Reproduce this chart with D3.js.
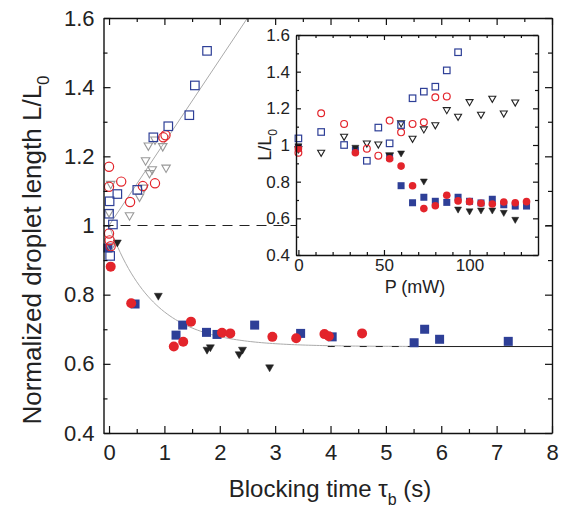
<!DOCTYPE html>
<html>
<head>
<meta charset="utf-8">
<script src="https://cdn.jsdelivr.net/npm/d3@7"></script>
<style>
  body { margin: 0; background: #fff; }
  text { font-family: "Liberation Sans", Arial, Helvetica, sans-serif; fill: #222; }
</style>
</head>
<body>
<div id="main-container"></div>
<script>
// MAIN PANEL: blocking time (s) vs normalized length
const openSqT   = [0.02, 0.00, 0.01, 0.07, 0.15, 0.51, 0.80, 1.07, 1.45, 1.55, 1.77];
const openSqV   = [0.912, 1.034, 1.070, 1.003, 1.091, 1.103, 1.255, 1.287, 1.319, 1.405, 1.505];
const openCircT = [0.00, 0.00, 0.22, 0.38, 0.61, 0.83, 0.98, 1.02, 0.00, 0.01, 0.03];
const openCircV = [1.170, 1.112, 1.127, 1.068, 1.114, 1.122, 1.255, 1.261, 0.977, 0.957, 0.940];
const openTriT  = [0.03, 0.00, 0.03, 0.37, 0.55, 0.63, 0.66, 0.73, 0.78, 0.71, 0.83, 0.97, 1.03];
const openTriV  = [1.117, 1.035, 0.935, 1.026, 1.080, 1.106, 1.185, 1.148, 1.159, 1.228, 1.245, 1.226, 1.164];
const fillSqT   = [-0.02, 0.47, 1.21, 1.33, 1.76, 1.95, 2.63, 3.46, 4.03, 5.51, 5.70, 5.97, 7.21];
const fillSqV   = [0.935, 0.773, 0.683, 0.712, 0.691, 0.685, 0.712, 0.688, 0.678, 0.661, 0.700, 0.671, 0.665];
const fillCircT = [0.03, 0.40, 1.17, 1.34, 1.48, 2.04, 2.19, 2.95, 3.38, 3.89, 3.97, 4.57];
const fillCircV = [0.881, 0.775, 0.650, 0.664, 0.722, 0.690, 0.688, 0.678, 0.674, 0.686, 0.680, 0.688];
const fillTriT  = [0.15, 0.89, 1.77, 1.83, 2.35, 2.41, 2.90];
const fillTriV  = [0.948, 0.794, 0.638, 0.645, 0.625, 0.638, 0.587];

// fit lines (main panel)
const riseStart = 1.0, riseSlope = 0.24;        // L/L0 = 1 + 0.24 t
const decayEnd = 0.65, decayAmp = 0.35, decayTau = 0.8;
const xTicks = [0, 1, 2, 3, 4, 5, 6, 7, 8];
const yTicks = [0.4, 0.6, 0.8, 1, 1.2, 1.4, 1.6];

// INSET: power (mW) vs L/L0
const inOpenSqP   = [0, 13.3, 26.7, 40, 46.7, 53.3, 60, 66.7, 73.3, 80, 86.7, 93.3];
const inOpenSqV   = [1.036, 1.071, 1.000, 0.914, 1.095, 1.009, 1.109, 1.255, 1.291, 1.318, 1.407, 1.506];
const inOpenCircP = [0, 13.3, 26.7, 40, 46.7, 53.3, 60, 66.7, 73.3, 80, 86.7];
const inOpenCircV = [0.958, 1.173, 1.115, 0.980, 0.942, 1.133, 1.069, 1.115, 1.124, 1.260, 1.265];
const inOpenTriP  = [0, 13.3, 26.7, 40, 46.7, 53.3, 60, 66.7, 73.3, 80, 86.7, 93.3, 100, 106.7, 113.3, 120, 126.7];
const inOpenTriV  = [0.973, 0.955, 1.042, 1.005, 1.000, 0.940, 1.115, 1.031, 1.082, 1.105, 1.187, 1.151, 1.231, 1.162, 1.249, 1.169, 1.229];
const inFillSqP   = [0, 33.3, 53.3, 60, 66.7, 73.3, 80, 86.7, 93.3, 100, 106.7, 113.3, 120, 126.7, 133.3];
const inFillSqV   = [0.987, 0.973, 0.933, 0.778, 0.685, 0.715, 0.693, 0.687, 0.715, 0.693, 0.684, 0.704, 0.674, 0.667, 0.667];
const inFillCircP = [0, 33.3, 53.3, 60, 66.7, 73.3, 80, 86.7, 93.3, 100, 106.7, 113.3, 120, 126.7, 133.3];
const inFillCircV = [0.980, 0.958, 0.925, 0.885, 0.778, 0.653, 0.669, 0.726, 0.695, 0.691, 0.682, 0.678, 0.689, 0.685, 0.691];
const inFillTriP  = [0, 33.3, 53.3, 60, 73.3, 93.3, 100, 106.7, 113.3, 120, 126.7];
const inFillTriV  = [0.990, 0.982, 0.940, 0.951, 0.798, 0.645, 0.635, 0.640, 0.640, 0.627, 0.589];
const inXTicks = [0, 50, 100];

const BLUE = "#2e3f97", RED = "#e3242b", GRAY = "#999", BLACK = "#222";

const W = 563, H = 509;
const plot = {left: 103.5, right: 552, top: 18, bottom: 433};
const ins = {left: 296, right: 538, top: 35, bottom: 255};

const svg = d3.select("#main-container")
    .append("svg")
        .attr("width", W)
        .attr("height", H);

const x = d3.scaleLinear().domain([-0.1, 8]).range([plot.left, plot.right]);
const y = d3.scaleLinear().domain([0.4, 1.6]).range([plot.bottom, plot.top]);

const zip = (a, b) => a.map((d, i) => [d, b[i]]);
const fmt = d3.format(".1~f");

svg.append("clipPath").attr("id", "clip")
    .append("rect")
        .attr("x", plot.left).attr("y", plot.top)
        .attr("width", plot.right - plot.left).attr("height", plot.bottom - plot.top);

// reference line at 1
svg.append("line")
    .attr("x1", plot.left).attr("x2", plot.right)
    .attr("y1", y(1)).attr("y2", y(1))
    .attr("stroke", "#222").attr("stroke-width", 1.2)
    .attr("stroke-dasharray", "10,7");

// fit curves
const curveG = svg.append("g").attr("clip-path", "url(#clip)");
const line = d3.line().x(d => x(d[0])).y(d => y(d[1]));
curveG.append("path")
    .datum([[0, riseStart], [3, riseStart + riseSlope * 3]])
    .attr("d", line)
    .attr("fill", "none").attr("stroke", "#aaa").attr("stroke-width", 1);
curveG.append("path")
    .datum(d3.range(0, 8.01, 0.05).map(t => [t, decayEnd + decayAmp * Math.exp(-t / decayTau)]))
    .attr("d", line)
    .attr("fill", "none").attr("stroke", "#aaa").attr("stroke-width", 1);
curveG.append("line")
    .attr("x1", x(3.95)).attr("x2", x(5.45))
    .attr("y1", y(decayEnd)).attr("y2", y(decayEnd))
    .attr("stroke", "#222").attr("stroke-width", 1).attr("stroke-dasharray", "7,9");
curveG.append("line")
    .attr("x1", x(5.45)).attr("x2", x(8))
    .attr("y1", y(decayEnd)).attr("y2", y(decayEnd))
    .attr("stroke", "#222").attr("stroke-width", 1);

// markers
function drawMarkers(g, data, sx, sy, kind, color, s) {
    const sel = g.selectAll(null).data(data).enter();
    if (kind === "sq") {
        sel.append("rect")
            .attr("x", d => sx(d[0]) - s / 2).attr("y", d => sy(d[1]) - s / 2)
            .attr("width", s).attr("height", s)
            .attr("fill", "none").attr("stroke", color).attr("stroke-width", 1.2);
    } else if (kind === "fsq") {
        sel.append("rect")
            .attr("x", d => sx(d[0]) - s / 2).attr("y", d => sy(d[1]) - s / 2)
            .attr("width", s).attr("height", s)
            .attr("fill", color);
    } else if (kind === "circ") {
        sel.append("circle")
            .attr("cx", d => sx(d[0])).attr("cy", d => sy(d[1])).attr("r", s)
            .attr("fill", "none").attr("stroke", color).attr("stroke-width", 1.2);
    } else if (kind === "fcirc") {
        sel.append("circle")
            .attr("cx", d => sx(d[0])).attr("cy", d => sy(d[1])).attr("r", s)
            .attr("fill", color);
    } else {
        // downward triangle, s = width
        const h = s * 0.87;
        sel.append("path")
            .attr("d", d => {
                const cx = sx(d[0]), cy = sy(d[1]);
                return `M${cx - s / 2},${cy - h / 2}L${cx + s / 2},${cy - h / 2}L${cx},${cy + h / 2}Z`;
            })
            .attr("fill", kind === "ftri" ? color : "none")
            .attr("stroke", color).attr("stroke-width", kind === "ftri" ? 0.5 : 1.1);
    }
}

const markG = svg.append("g");
drawMarkers(markG, zip(fillSqT, fillSqV), x, y, "fsq", BLUE, 9);
drawMarkers(markG, zip(fillCircT, fillCircV), x, y, "fcirc", RED, 5);
drawMarkers(markG, zip(fillTriT, fillTriV), x, y, "ftri", BLACK, 8);
drawMarkers(markG, zip(openTriT, openTriV), x, y, "tri", GRAY, 8.5);
drawMarkers(markG, zip(openCircT, openCircV), x, y, "circ", RED, 4.6);
drawMarkers(markG, zip(openSqT, openSqV), x, y, "sq", BLUE, 8.5);

// axes (ticks inward, mirrored on all four sides)
function frameAxes(g, sx, sy, box, xMaj, xMin, yMaj, yMin, big, small, fs, gap, dy) {
    const mk = (axisFn, scale, vals, size, tr, lab) => {
        const a = g.append("g").attr("transform", tr)
            .call(axisFn(scale).tickValues(vals).tickSize(-size).tickSizeOuter(0)
                .tickFormat(lab ? fmt : ""));
        a.select(".domain").attr("stroke", "#111").attr("stroke-width", 1.4);
        a.selectAll(".tick line").attr("stroke", "#111").attr("stroke-width", 1.2);
        a.selectAll("text").attr("font-size", fs).attr("fill", "#222");
        return a;
    };
    const bx = mk(d3.axisBottom, sx, xMaj, big, `translate(0,${box.bottom})`, true);
    bx.selectAll("text").attr("dy", dy).attr("y", gap - 2);
    mk(d3.axisBottom, sx, xMin, small, `translate(0,${box.bottom})`, false).select(".domain").remove();
    mk(d3.axisTop, sx, xMaj, big, `translate(0,${box.top})`, false);
    mk(d3.axisTop, sx, xMin, small, `translate(0,${box.top})`, false).select(".domain").remove();
    const ly = mk(d3.axisLeft, sy, yMaj, big, `translate(${box.left},0)`, true);
    ly.selectAll("text").attr("x", -gap);
    mk(d3.axisLeft, sy, yMin, small, `translate(${box.left},0)`, false).select(".domain").remove();
    mk(d3.axisRight, sy, yMaj, big, `translate(${box.right},0)`, false);
    mk(d3.axisRight, sy, yMin, small, `translate(${box.right},0)`, false).select(".domain").remove();
}

frameAxes(svg, x, y, plot,
    xTicks, xTicks.slice(0, -1).map(d => d + 0.5),
    yTicks, yTicks.slice(0, -1).map(d => d + 0.1),
    7, 4, 22, 9, "0.92em");

// axis titles
svg.append("text")
    .attr("transform", `translate(41,250) rotate(-90)`)
    .attr("text-anchor", "middle")
    .attr("font-size", 26)
    .text("Normalized droplet length L/L")
    .append("tspan").attr("font-size", 17).attr("dy", 8).text("0");

const xl = svg.append("text")
    .attr("x", 330).attr("y", 497)
    .attr("text-anchor", "middle")
    .attr("font-size", 24)
    .text("Blocking time \u03C4");
xl.append("tspan").attr("font-size", 16).attr("dy", 8).text("b");
xl.append("tspan").attr("dy", -8).text(" (s)");

// INSET
const ix = d3.scaleLinear().domain([-1.4, 140]).range([ins.left, ins.right]);
const iy = d3.scaleLinear().domain([0.4, 1.6]).range([ins.bottom, ins.top]);

svg.append("rect")
    .attr("x", ins.left).attr("y", ins.top)
    .attr("width", ins.right - ins.left).attr("height", ins.bottom - ins.top)
    .attr("fill", "#fff");

const inG = svg.append("g");
drawMarkers(inG, zip(inOpenTriP, inOpenTriV), ix, iy, "tri", BLACK, 7);
drawMarkers(inG, zip(inOpenCircP, inOpenCircV), ix, iy, "circ", RED, 3.4);
drawMarkers(inG, zip(inOpenSqP, inOpenSqV), ix, iy, "sq", BLUE, 6.5);
drawMarkers(inG, zip(inFillSqP, inFillSqV), ix, iy, "fsq", BLUE, 7);
drawMarkers(inG, zip(inFillTriP, inFillTriV), ix, iy, "ftri", BLACK, 7);
drawMarkers(inG, zip(inFillCircP, inFillCircV), ix, iy, "fcirc", RED, 3.8);

frameAxes(svg, ix, iy, ins,
    inXTicks, d3.range(10, 140, 10).filter(d => d % 50 !== 0),
    yTicks, yTicks.slice(0, -1).map(d => d + 0.1),
    5, 3, 17, 6, "0.72em");

svg.append("text")
    .attr("transform", `translate(271,${(ins.top + ins.bottom) / 2}) rotate(-90)`)
    .attr("text-anchor", "middle")
    .attr("font-size", 18)
    .text("L/L")
    .append("tspan").attr("font-size", 12).attr("dy", 6).text("0");

svg.append("text")
    .attr("x", (ins.left + ins.right) / 2 - 2).attr("y", 293)
    .attr("text-anchor", "middle")
    .attr("font-size", 18)
    .text("P (mW)");
</script>
</body>
</html>
